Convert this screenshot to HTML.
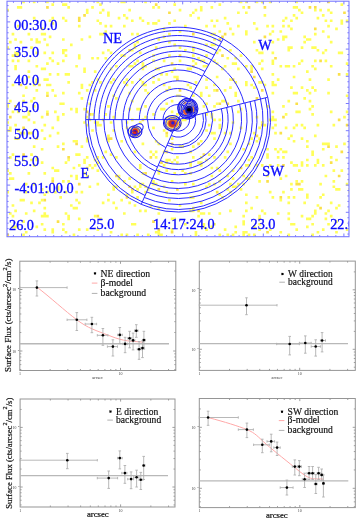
<!DOCTYPE html><html><head><meta charset="utf-8"><style>html,body{margin:0;padding:0;background:#fff;}svg{display:block}</style></head><body>
<svg width="357" height="520" viewBox="0 0 357 520">
<rect width="357" height="520" fill="#fff"/>
<g opacity="0.999">
<g>
<clipPath id="fc"><rect x="7.0" y="1.2" width="342.0" height="235.5"/></clipPath>
<g clip-path="url(#fc)">
<filter id="bl" x="-5%" y="-5%" width="110%" height="110%"><feGaussianBlur stdDeviation="0.45"/></filter>
<g filter="url(#bl)"><path d="M56.71 -1.99h2.65v2.68h-2.65zM59.36 -1.99h2.65v2.68h-2.65zM64.67 -1.99h2.65v2.68h-2.65zM107.10 -1.99h2.65v2.68h-2.65zM123.01 -1.99h2.65v2.68h-2.65zM136.27 -1.99h2.65v2.68h-2.65zM144.23 -1.99h2.65v2.68h-2.65zM160.14 -1.99h2.65v2.68h-2.65zM231.74 -1.99h2.65v2.68h-2.65zM319.26 -1.99h2.65v2.68h-2.65zM337.82 -1.99h2.65v2.68h-2.65zM343.13 -1.99h2.65v2.68h-2.65zM22.24 0.69h2.65v2.68h-2.65zM32.84 0.69h2.65v2.68h-2.65zM46.10 0.69h2.65v2.68h-2.65zM96.49 0.69h2.65v2.68h-2.65zM120.36 0.69h2.65v2.68h-2.65zM123.01 0.69h2.65v2.68h-2.65zM144.23 0.69h2.65v2.68h-2.65zM239.70 0.69h2.65v2.68h-2.65zM245.00 0.69h2.65v2.68h-2.65zM255.61 0.69h2.65v2.68h-2.65zM260.92 0.69h2.65v2.68h-2.65zM268.87 0.69h2.65v2.68h-2.65zM295.39 0.69h2.65v2.68h-2.65zM51.41 3.37h2.65v2.68h-2.65zM62.02 3.37h2.65v2.68h-2.65zM64.67 3.37h2.65v2.68h-2.65zM99.14 3.37h2.65v2.68h-2.65zM173.40 3.37h2.65v2.68h-2.65zM218.48 3.37h2.65v2.68h-2.65zM340.48 3.37h2.65v2.68h-2.65zM16.93 6.04h2.65v2.68h-2.65zM19.58 6.04h2.65v2.68h-2.65zM67.32 6.04h2.65v2.68h-2.65zM91.19 6.04h2.65v2.68h-2.65zM152.18 6.04h2.65v2.68h-2.65zM157.49 6.04h2.65v2.68h-2.65zM199.92 6.04h2.65v2.68h-2.65zM210.53 6.04h2.65v2.68h-2.65zM242.35 6.04h2.65v2.68h-2.65zM292.74 6.04h2.65v2.68h-2.65zM295.39 6.04h2.65v2.68h-2.65zM6.32 8.72h2.65v2.68h-2.65zM85.88 8.72h2.65v2.68h-2.65zM101.80 8.72h2.65v2.68h-2.65zM128.32 8.72h2.65v2.68h-2.65zM178.70 8.72h2.65v2.68h-2.65zM194.62 8.72h2.65v2.68h-2.65zM199.92 8.72h2.65v2.68h-2.65zM298.04 8.72h2.65v2.68h-2.65zM313.96 8.72h2.65v2.68h-2.65zM319.26 8.72h2.65v2.68h-2.65zM327.22 8.72h2.65v2.68h-2.65zM85.88 11.40h2.65v2.68h-2.65zM99.14 11.40h2.65v2.68h-2.65zM107.10 11.40h2.65v2.68h-2.65zM191.96 11.40h2.65v2.68h-2.65zM237.05 11.40h2.65v2.68h-2.65zM245.00 11.40h2.65v2.68h-2.65zM300.70 11.40h2.65v2.68h-2.65zM329.87 11.40h2.65v2.68h-2.65zM107.10 14.07h2.65v2.68h-2.65zM123.01 14.07h2.65v2.68h-2.65zM189.31 14.07h2.65v2.68h-2.65zM263.57 14.07h2.65v2.68h-2.65zM292.74 14.07h2.65v2.68h-2.65zM321.91 14.07h2.65v2.68h-2.65zM32.84 16.75h2.65v2.68h-2.65zM51.41 16.75h2.65v2.68h-2.65zM62.02 16.75h2.65v2.68h-2.65zM117.71 16.75h2.65v2.68h-2.65zM125.66 16.75h2.65v2.68h-2.65zM138.92 16.75h2.65v2.68h-2.65zM197.27 16.75h2.65v2.68h-2.65zM223.79 16.75h2.65v2.68h-2.65zM284.78 16.75h2.65v2.68h-2.65zM295.39 16.75h2.65v2.68h-2.65zM316.61 16.75h2.65v2.68h-2.65zM48.76 19.43h2.65v2.68h-2.65zM64.67 19.43h2.65v2.68h-2.65zM96.49 19.43h2.65v2.68h-2.65zM130.97 19.43h2.65v2.68h-2.65zM141.58 19.43h2.65v2.68h-2.65zM157.49 19.43h2.65v2.68h-2.65zM173.40 19.43h2.65v2.68h-2.65zM210.53 19.43h2.65v2.68h-2.65zM215.83 19.43h2.65v2.68h-2.65zM282.13 19.43h2.65v2.68h-2.65zM290.09 19.43h2.65v2.68h-2.65zM324.56 19.43h2.65v2.68h-2.65zM329.87 19.43h2.65v2.68h-2.65zM340.48 19.43h2.65v2.68h-2.65zM345.78 19.43h2.65v2.68h-2.65zM351.08 19.43h2.65v2.68h-2.65zM51.41 22.11h2.65v2.68h-2.65zM99.14 22.11h2.65v2.68h-2.65zM146.88 22.11h2.65v2.68h-2.65zM152.18 22.11h2.65v2.68h-2.65zM154.84 22.11h2.65v2.68h-2.65zM168.10 22.11h2.65v2.68h-2.65zM226.44 22.11h2.65v2.68h-2.65zM252.96 22.11h2.65v2.68h-2.65zM340.48 22.11h2.65v2.68h-2.65zM16.93 24.78h2.65v2.68h-2.65zM77.93 24.78h2.65v2.68h-2.65zM104.45 24.78h2.65v2.68h-2.65zM109.75 24.78h2.65v2.68h-2.65zM123.01 24.78h2.65v2.68h-2.65zM184.01 24.78h2.65v2.68h-2.65zM205.22 24.78h2.65v2.68h-2.65zM213.18 24.78h2.65v2.68h-2.65zM237.05 24.78h2.65v2.68h-2.65zM266.22 24.78h2.65v2.68h-2.65zM271.52 24.78h2.65v2.68h-2.65zM282.13 24.78h2.65v2.68h-2.65zM287.44 24.78h2.65v2.68h-2.65zM327.22 24.78h2.65v2.68h-2.65zM40.80 27.46h2.65v2.68h-2.65zM162.79 27.46h2.65v2.68h-2.65zM229.09 27.46h2.65v2.68h-2.65zM255.61 27.46h2.65v2.68h-2.65zM290.09 27.46h2.65v2.68h-2.65zM335.17 27.46h2.65v2.68h-2.65zM104.45 30.14h2.65v2.68h-2.65zM178.70 30.14h2.65v2.68h-2.65zM218.48 30.14h2.65v2.68h-2.65zM245.00 30.14h2.65v2.68h-2.65zM271.52 30.14h2.65v2.68h-2.65zM279.48 30.14h2.65v2.68h-2.65zM321.91 30.14h2.65v2.68h-2.65zM11.63 32.81h2.65v2.68h-2.65zM27.54 32.81h2.65v2.68h-2.65zM40.80 32.81h2.65v2.68h-2.65zM43.45 32.81h2.65v2.68h-2.65zM99.14 32.81h2.65v2.68h-2.65zM101.80 32.81h2.65v2.68h-2.65zM130.97 32.81h2.65v2.68h-2.65zM136.27 32.81h2.65v2.68h-2.65zM168.10 32.81h2.65v2.68h-2.65zM210.53 32.81h2.65v2.68h-2.65zM213.18 32.81h2.65v2.68h-2.65zM231.74 32.81h2.65v2.68h-2.65zM245.00 32.81h2.65v2.68h-2.65zM268.87 32.81h2.65v2.68h-2.65zM313.96 32.81h2.65v2.68h-2.65zM48.76 35.49h2.65v2.68h-2.65zM88.54 35.49h2.65v2.68h-2.65zM162.79 35.49h2.65v2.68h-2.65zM282.13 35.49h2.65v2.68h-2.65zM284.78 35.49h2.65v2.68h-2.65zM303.35 35.49h2.65v2.68h-2.65zM327.22 35.49h2.65v2.68h-2.65zM14.28 38.17h2.65v2.68h-2.65zM30.19 38.17h2.65v2.68h-2.65zM35.50 38.17h2.65v2.68h-2.65zM43.45 38.17h2.65v2.68h-2.65zM62.02 38.17h2.65v2.68h-2.65zM80.58 38.17h2.65v2.68h-2.65zM157.49 38.17h2.65v2.68h-2.65zM213.18 38.17h2.65v2.68h-2.65zM276.83 38.17h2.65v2.68h-2.65zM282.13 38.17h2.65v2.68h-2.65zM306.00 38.17h2.65v2.68h-2.65zM308.65 38.17h2.65v2.68h-2.65zM3.67 40.84h2.65v2.68h-2.65zM8.98 40.84h2.65v2.68h-2.65zM19.58 40.84h2.65v2.68h-2.65zM35.50 40.84h2.65v2.68h-2.65zM38.15 40.84h2.65v2.68h-2.65zM136.27 40.84h2.65v2.68h-2.65zM168.10 40.84h2.65v2.68h-2.65zM252.96 40.84h2.65v2.68h-2.65zM271.52 40.84h2.65v2.68h-2.65zM303.35 40.84h2.65v2.68h-2.65zM329.87 40.84h2.65v2.68h-2.65zM46.10 43.52h2.65v2.68h-2.65zM69.97 43.52h2.65v2.68h-2.65zM133.62 43.52h2.65v2.68h-2.65zM173.40 43.52h2.65v2.68h-2.65zM205.22 43.52h2.65v2.68h-2.65zM210.53 43.52h2.65v2.68h-2.65zM213.18 43.52h2.65v2.68h-2.65zM6.32 46.20h2.65v2.68h-2.65zM30.19 46.20h2.65v2.68h-2.65zM133.62 46.20h2.65v2.68h-2.65zM154.84 46.20h2.65v2.68h-2.65zM178.70 46.20h2.65v2.68h-2.65zM191.96 46.20h2.65v2.68h-2.65zM287.44 46.20h2.65v2.68h-2.65zM290.09 46.20h2.65v2.68h-2.65zM300.70 46.20h2.65v2.68h-2.65zM311.30 46.20h2.65v2.68h-2.65zM313.96 46.20h2.65v2.68h-2.65zM351.08 46.20h2.65v2.68h-2.65zM62.02 48.88h2.65v2.68h-2.65zM64.67 48.88h2.65v2.68h-2.65zM107.10 48.88h2.65v2.68h-2.65zM130.97 48.88h2.65v2.68h-2.65zM184.01 48.88h2.65v2.68h-2.65zM191.96 48.88h2.65v2.68h-2.65zM218.48 48.88h2.65v2.68h-2.65zM229.09 48.88h2.65v2.68h-2.65zM255.61 48.88h2.65v2.68h-2.65zM287.44 48.88h2.65v2.68h-2.65zM316.61 48.88h2.65v2.68h-2.65zM324.56 48.88h2.65v2.68h-2.65zM14.28 51.55h2.65v2.68h-2.65zM16.93 51.55h2.65v2.68h-2.65zM35.50 51.55h2.65v2.68h-2.65zM43.45 51.55h2.65v2.68h-2.65zM51.41 51.55h2.65v2.68h-2.65zM62.02 51.55h2.65v2.68h-2.65zM101.80 51.55h2.65v2.68h-2.65zM109.75 51.55h2.65v2.68h-2.65zM138.92 51.55h2.65v2.68h-2.65zM215.83 51.55h2.65v2.68h-2.65zM258.26 51.55h2.65v2.68h-2.65zM260.92 51.55h2.65v2.68h-2.65zM271.52 51.55h2.65v2.68h-2.65zM321.91 51.55h2.65v2.68h-2.65zM337.82 51.55h2.65v2.68h-2.65zM340.48 51.55h2.65v2.68h-2.65zM11.63 54.23h2.65v2.68h-2.65zM14.28 54.23h2.65v2.68h-2.65zM16.93 54.23h2.65v2.68h-2.65zM64.67 54.23h2.65v2.68h-2.65zM77.93 54.23h2.65v2.68h-2.65zM120.36 54.23h2.65v2.68h-2.65zM123.01 54.23h2.65v2.68h-2.65zM152.18 54.23h2.65v2.68h-2.65zM168.10 54.23h2.65v2.68h-2.65zM191.96 54.23h2.65v2.68h-2.65zM205.22 54.23h2.65v2.68h-2.65zM239.70 54.23h2.65v2.68h-2.65zM48.76 56.91h2.65v2.68h-2.65zM77.93 56.91h2.65v2.68h-2.65zM91.19 56.91h2.65v2.68h-2.65zM96.49 56.91h2.65v2.68h-2.65zM104.45 56.91h2.65v2.68h-2.65zM197.27 56.91h2.65v2.68h-2.65zM226.44 56.91h2.65v2.68h-2.65zM234.40 56.91h2.65v2.68h-2.65zM11.63 59.58h2.65v2.68h-2.65zM16.93 59.58h2.65v2.68h-2.65zM27.54 59.58h2.65v2.68h-2.65zM51.41 59.58h2.65v2.68h-2.65zM62.02 59.58h2.65v2.68h-2.65zM136.27 59.58h2.65v2.68h-2.65zM152.18 59.58h2.65v2.68h-2.65zM162.79 59.58h2.65v2.68h-2.65zM178.70 59.58h2.65v2.68h-2.65zM191.96 59.58h2.65v2.68h-2.65zM199.92 59.58h2.65v2.68h-2.65zM202.57 59.58h2.65v2.68h-2.65zM213.18 59.58h2.65v2.68h-2.65zM260.92 59.58h2.65v2.68h-2.65zM271.52 59.58h2.65v2.68h-2.65zM300.70 59.58h2.65v2.68h-2.65zM313.96 59.58h2.65v2.68h-2.65zM324.56 59.58h2.65v2.68h-2.65zM46.10 62.26h2.65v2.68h-2.65zM56.71 62.26h2.65v2.68h-2.65zM133.62 62.26h2.65v2.68h-2.65zM141.58 62.26h2.65v2.68h-2.65zM194.62 62.26h2.65v2.68h-2.65zM215.83 62.26h2.65v2.68h-2.65zM231.74 62.26h2.65v2.68h-2.65zM234.40 62.26h2.65v2.68h-2.65zM258.26 62.26h2.65v2.68h-2.65zM271.52 62.26h2.65v2.68h-2.65zM298.04 62.26h2.65v2.68h-2.65zM345.78 62.26h2.65v2.68h-2.65zM14.28 64.94h2.65v2.68h-2.65zM35.50 64.94h2.65v2.68h-2.65zM75.28 64.94h2.65v2.68h-2.65zM115.06 64.94h2.65v2.68h-2.65zM128.32 64.94h2.65v2.68h-2.65zM130.97 64.94h2.65v2.68h-2.65zM141.58 64.94h2.65v2.68h-2.65zM144.23 64.94h2.65v2.68h-2.65zM202.57 64.94h2.65v2.68h-2.65zM205.22 64.94h2.65v2.68h-2.65zM223.79 64.94h2.65v2.68h-2.65zM245.00 64.94h2.65v2.68h-2.65zM250.31 64.94h2.65v2.68h-2.65zM279.48 64.94h2.65v2.68h-2.65zM284.78 64.94h2.65v2.68h-2.65zM287.44 64.94h2.65v2.68h-2.65zM292.74 64.94h2.65v2.68h-2.65zM311.30 64.94h2.65v2.68h-2.65zM329.87 64.94h2.65v2.68h-2.65zM14.28 67.61h2.65v2.68h-2.65zM40.80 67.61h2.65v2.68h-2.65zM43.45 67.61h2.65v2.68h-2.65zM83.23 67.61h2.65v2.68h-2.65zM109.75 67.61h2.65v2.68h-2.65zM141.58 67.61h2.65v2.68h-2.65zM154.84 67.61h2.65v2.68h-2.65zM157.49 67.61h2.65v2.68h-2.65zM173.40 67.61h2.65v2.68h-2.65zM186.66 67.61h2.65v2.68h-2.65zM189.31 67.61h2.65v2.68h-2.65zM221.14 67.61h2.65v2.68h-2.65zM237.05 67.61h2.65v2.68h-2.65zM250.31 67.61h2.65v2.68h-2.65zM260.92 67.61h2.65v2.68h-2.65zM313.96 67.61h2.65v2.68h-2.65zM27.54 70.29h2.65v2.68h-2.65zM83.23 70.29h2.65v2.68h-2.65zM93.84 70.29h2.65v2.68h-2.65zM170.75 70.29h2.65v2.68h-2.65zM306.00 70.29h2.65v2.68h-2.65zM48.76 72.97h2.65v2.68h-2.65zM56.71 72.97h2.65v2.68h-2.65zM64.67 72.97h2.65v2.68h-2.65zM67.32 72.97h2.65v2.68h-2.65zM160.14 72.97h2.65v2.68h-2.65zM165.44 72.97h2.65v2.68h-2.65zM271.52 72.97h2.65v2.68h-2.65zM345.78 72.97h2.65v2.68h-2.65zM351.08 72.97h2.65v2.68h-2.65zM3.67 75.65h2.65v2.68h-2.65zM27.54 75.65h2.65v2.68h-2.65zM152.18 75.65h2.65v2.68h-2.65zM173.40 75.65h2.65v2.68h-2.65zM176.05 75.65h2.65v2.68h-2.65zM215.83 75.65h2.65v2.68h-2.65zM292.74 75.65h2.65v2.68h-2.65zM35.50 78.32h2.65v2.68h-2.65zM43.45 78.32h2.65v2.68h-2.65zM46.10 78.32h2.65v2.68h-2.65zM96.49 78.32h2.65v2.68h-2.65zM112.40 78.32h2.65v2.68h-2.65zM125.66 78.32h2.65v2.68h-2.65zM138.92 78.32h2.65v2.68h-2.65zM157.49 78.32h2.65v2.68h-2.65zM205.22 78.32h2.65v2.68h-2.65zM229.09 78.32h2.65v2.68h-2.65zM276.83 78.32h2.65v2.68h-2.65zM308.65 78.32h2.65v2.68h-2.65zM327.22 78.32h2.65v2.68h-2.65zM3.67 81.00h2.65v2.68h-2.65zM35.50 81.00h2.65v2.68h-2.65zM67.32 81.00h2.65v2.68h-2.65zM91.19 81.00h2.65v2.68h-2.65zM99.14 81.00h2.65v2.68h-2.65zM109.75 81.00h2.65v2.68h-2.65zM123.01 81.00h2.65v2.68h-2.65zM130.97 81.00h2.65v2.68h-2.65zM141.58 81.00h2.65v2.68h-2.65zM152.18 81.00h2.65v2.68h-2.65zM194.62 81.00h2.65v2.68h-2.65zM234.40 81.00h2.65v2.68h-2.65zM245.00 81.00h2.65v2.68h-2.65zM258.26 81.00h2.65v2.68h-2.65zM260.92 81.00h2.65v2.68h-2.65zM271.52 81.00h2.65v2.68h-2.65zM11.63 83.68h2.65v2.68h-2.65zM32.84 83.68h2.65v2.68h-2.65zM46.10 83.68h2.65v2.68h-2.65zM48.76 83.68h2.65v2.68h-2.65zM80.58 83.68h2.65v2.68h-2.65zM88.54 83.68h2.65v2.68h-2.65zM125.66 83.68h2.65v2.68h-2.65zM141.58 83.68h2.65v2.68h-2.65zM144.23 83.68h2.65v2.68h-2.65zM162.79 83.68h2.65v2.68h-2.65zM186.66 83.68h2.65v2.68h-2.65zM213.18 83.68h2.65v2.68h-2.65zM245.00 83.68h2.65v2.68h-2.65zM250.31 83.68h2.65v2.68h-2.65zM263.57 83.68h2.65v2.68h-2.65zM271.52 83.68h2.65v2.68h-2.65zM274.18 83.68h2.65v2.68h-2.65zM24.89 86.35h2.65v2.68h-2.65zM80.58 86.35h2.65v2.68h-2.65zM168.10 86.35h2.65v2.68h-2.65zM189.31 86.35h2.65v2.68h-2.65zM205.22 86.35h2.65v2.68h-2.65zM229.09 86.35h2.65v2.68h-2.65zM252.96 86.35h2.65v2.68h-2.65zM290.09 86.35h2.65v2.68h-2.65zM300.70 86.35h2.65v2.68h-2.65zM311.30 86.35h2.65v2.68h-2.65zM35.50 89.03h2.65v2.68h-2.65zM51.41 89.03h2.65v2.68h-2.65zM85.88 89.03h2.65v2.68h-2.65zM93.84 89.03h2.65v2.68h-2.65zM144.23 89.03h2.65v2.68h-2.65zM165.44 89.03h2.65v2.68h-2.65zM213.18 89.03h2.65v2.68h-2.65zM223.79 89.03h2.65v2.68h-2.65zM306.00 89.03h2.65v2.68h-2.65zM313.96 89.03h2.65v2.68h-2.65zM46.10 91.71h2.65v2.68h-2.65zM62.02 91.71h2.65v2.68h-2.65zM77.93 91.71h2.65v2.68h-2.65zM128.32 91.71h2.65v2.68h-2.65zM146.88 91.71h2.65v2.68h-2.65zM199.92 91.71h2.65v2.68h-2.65zM234.40 91.71h2.65v2.68h-2.65zM271.52 91.71h2.65v2.68h-2.65zM292.74 91.71h2.65v2.68h-2.65zM295.39 91.71h2.65v2.68h-2.65zM308.65 91.71h2.65v2.68h-2.65zM327.22 91.71h2.65v2.68h-2.65zM22.24 94.39h2.65v2.68h-2.65zM54.06 94.39h2.65v2.68h-2.65zM112.40 94.39h2.65v2.68h-2.65zM176.05 94.39h2.65v2.68h-2.65zM178.70 94.39h2.65v2.68h-2.65zM191.96 94.39h2.65v2.68h-2.65zM199.92 94.39h2.65v2.68h-2.65zM207.88 94.39h2.65v2.68h-2.65zM234.40 94.39h2.65v2.68h-2.65zM345.78 94.39h2.65v2.68h-2.65zM32.84 97.06h2.65v2.68h-2.65zM80.58 97.06h2.65v2.68h-2.65zM115.06 97.06h2.65v2.68h-2.65zM303.35 97.06h2.65v2.68h-2.65zM8.98 99.74h2.65v2.68h-2.65zM22.24 99.74h2.65v2.68h-2.65zM30.19 99.74h2.65v2.68h-2.65zM130.97 99.74h2.65v2.68h-2.65zM170.75 99.74h2.65v2.68h-2.65zM221.14 99.74h2.65v2.68h-2.65zM223.79 99.74h2.65v2.68h-2.65zM237.05 99.74h2.65v2.68h-2.65zM287.44 99.74h2.65v2.68h-2.65zM308.65 99.74h2.65v2.68h-2.65zM6.32 102.42h2.65v2.68h-2.65zM59.36 102.42h2.65v2.68h-2.65zM62.02 102.42h2.65v2.68h-2.65zM88.54 102.42h2.65v2.68h-2.65zM165.44 102.42h2.65v2.68h-2.65zM205.22 102.42h2.65v2.68h-2.65zM215.83 102.42h2.65v2.68h-2.65zM351.08 102.42h2.65v2.68h-2.65zM6.32 105.09h2.65v2.68h-2.65zM32.84 105.09h2.65v2.68h-2.65zM107.10 105.09h2.65v2.68h-2.65zM144.23 105.09h2.65v2.68h-2.65zM189.31 105.09h2.65v2.68h-2.65zM202.57 105.09h2.65v2.68h-2.65zM213.18 105.09h2.65v2.68h-2.65zM266.22 105.09h2.65v2.68h-2.65zM282.13 105.09h2.65v2.68h-2.65zM311.30 105.09h2.65v2.68h-2.65zM69.97 107.77h2.65v2.68h-2.65zM75.28 107.77h2.65v2.68h-2.65zM83.23 107.77h2.65v2.68h-2.65zM128.32 107.77h2.65v2.68h-2.65zM136.27 107.77h2.65v2.68h-2.65zM138.92 107.77h2.65v2.68h-2.65zM160.14 107.77h2.65v2.68h-2.65zM162.79 107.77h2.65v2.68h-2.65zM189.31 107.77h2.65v2.68h-2.65zM239.70 107.77h2.65v2.68h-2.65zM308.65 107.77h2.65v2.68h-2.65zM11.63 110.45h2.65v2.68h-2.65zM16.93 110.45h2.65v2.68h-2.65zM27.54 110.45h2.65v2.68h-2.65zM46.10 110.45h2.65v2.68h-2.65zM54.06 110.45h2.65v2.68h-2.65zM75.28 110.45h2.65v2.68h-2.65zM170.75 110.45h2.65v2.68h-2.65zM237.05 110.45h2.65v2.68h-2.65zM271.52 110.45h2.65v2.68h-2.65zM295.39 110.45h2.65v2.68h-2.65zM298.04 110.45h2.65v2.68h-2.65zM329.87 110.45h2.65v2.68h-2.65zM345.78 110.45h2.65v2.68h-2.65zM351.08 110.45h2.65v2.68h-2.65zM27.54 113.12h2.65v2.68h-2.65zM62.02 113.12h2.65v2.68h-2.65zM91.19 113.12h2.65v2.68h-2.65zM104.45 113.12h2.65v2.68h-2.65zM152.18 113.12h2.65v2.68h-2.65zM176.05 113.12h2.65v2.68h-2.65zM205.22 113.12h2.65v2.68h-2.65zM210.53 113.12h2.65v2.68h-2.65zM284.78 113.12h2.65v2.68h-2.65zM311.30 113.12h2.65v2.68h-2.65zM22.24 115.80h2.65v2.68h-2.65zM24.89 115.80h2.65v2.68h-2.65zM40.80 115.80h2.65v2.68h-2.65zM56.71 115.80h2.65v2.68h-2.65zM85.88 115.80h2.65v2.68h-2.65zM112.40 115.80h2.65v2.68h-2.65zM144.23 115.80h2.65v2.68h-2.65zM210.53 115.80h2.65v2.68h-2.65zM255.61 115.80h2.65v2.68h-2.65zM271.52 115.80h2.65v2.68h-2.65zM343.13 115.80h2.65v2.68h-2.65zM27.54 118.48h2.65v2.68h-2.65zM56.71 118.48h2.65v2.68h-2.65zM88.54 118.48h2.65v2.68h-2.65zM101.80 118.48h2.65v2.68h-2.65zM130.97 118.48h2.65v2.68h-2.65zM181.36 118.48h2.65v2.68h-2.65zM184.01 118.48h2.65v2.68h-2.65zM213.18 118.48h2.65v2.68h-2.65zM218.48 118.48h2.65v2.68h-2.65zM268.87 118.48h2.65v2.68h-2.65zM271.52 118.48h2.65v2.68h-2.65zM274.18 118.48h2.65v2.68h-2.65zM6.32 121.16h2.65v2.68h-2.65zM32.84 121.16h2.65v2.68h-2.65zM83.23 121.16h2.65v2.68h-2.65zM93.84 121.16h2.65v2.68h-2.65zM96.49 121.16h2.65v2.68h-2.65zM109.75 121.16h2.65v2.68h-2.65zM125.66 121.16h2.65v2.68h-2.65zM138.92 121.16h2.65v2.68h-2.65zM173.40 121.16h2.65v2.68h-2.65zM178.70 121.16h2.65v2.68h-2.65zM231.74 121.16h2.65v2.68h-2.65zM260.92 121.16h2.65v2.68h-2.65zM14.28 123.83h2.65v2.68h-2.65zM43.45 123.83h2.65v2.68h-2.65zM85.88 123.83h2.65v2.68h-2.65zM96.49 123.83h2.65v2.68h-2.65zM99.14 123.83h2.65v2.68h-2.65zM165.44 123.83h2.65v2.68h-2.65zM207.88 123.83h2.65v2.68h-2.65zM218.48 123.83h2.65v2.68h-2.65zM263.57 123.83h2.65v2.68h-2.65zM274.18 123.83h2.65v2.68h-2.65zM295.39 123.83h2.65v2.68h-2.65zM300.70 123.83h2.65v2.68h-2.65zM316.61 123.83h2.65v2.68h-2.65zM332.52 123.83h2.65v2.68h-2.65zM3.67 126.51h2.65v2.68h-2.65zM8.98 126.51h2.65v2.68h-2.65zM51.41 126.51h2.65v2.68h-2.65zM125.66 126.51h2.65v2.68h-2.65zM152.18 126.51h2.65v2.68h-2.65zM165.44 126.51h2.65v2.68h-2.65zM218.48 126.51h2.65v2.68h-2.65zM239.70 126.51h2.65v2.68h-2.65zM258.26 126.51h2.65v2.68h-2.65zM271.52 126.51h2.65v2.68h-2.65zM284.78 126.51h2.65v2.68h-2.65zM292.74 126.51h2.65v2.68h-2.65zM303.35 126.51h2.65v2.68h-2.65zM6.32 129.19h2.65v2.68h-2.65zM8.98 129.19h2.65v2.68h-2.65zM16.93 129.19h2.65v2.68h-2.65zM40.80 129.19h2.65v2.68h-2.65zM91.19 129.19h2.65v2.68h-2.65zM112.40 129.19h2.65v2.68h-2.65zM162.79 129.19h2.65v2.68h-2.65zM205.22 129.19h2.65v2.68h-2.65zM19.58 131.86h2.65v2.68h-2.65zM22.24 131.86h2.65v2.68h-2.65zM30.19 131.86h2.65v2.68h-2.65zM56.71 131.86h2.65v2.68h-2.65zM210.53 131.86h2.65v2.68h-2.65zM213.18 131.86h2.65v2.68h-2.65zM223.79 131.86h2.65v2.68h-2.65zM229.09 131.86h2.65v2.68h-2.65zM252.96 131.86h2.65v2.68h-2.65zM274.18 131.86h2.65v2.68h-2.65zM48.76 134.54h2.65v2.68h-2.65zM107.10 134.54h2.65v2.68h-2.65zM133.62 134.54h2.65v2.68h-2.65zM165.44 134.54h2.65v2.68h-2.65zM290.09 134.54h2.65v2.68h-2.65zM313.96 134.54h2.65v2.68h-2.65zM14.28 137.22h2.65v2.68h-2.65zM16.93 137.22h2.65v2.68h-2.65zM35.50 137.22h2.65v2.68h-2.65zM43.45 137.22h2.65v2.68h-2.65zM85.88 137.22h2.65v2.68h-2.65zM170.75 137.22h2.65v2.68h-2.65zM213.18 137.22h2.65v2.68h-2.65zM250.31 137.22h2.65v2.68h-2.65zM258.26 137.22h2.65v2.68h-2.65zM287.44 137.22h2.65v2.68h-2.65zM300.70 137.22h2.65v2.68h-2.65zM72.62 139.89h2.65v2.68h-2.65zM75.28 139.89h2.65v2.68h-2.65zM85.88 139.89h2.65v2.68h-2.65zM107.10 139.89h2.65v2.68h-2.65zM120.36 139.89h2.65v2.68h-2.65zM154.84 139.89h2.65v2.68h-2.65zM199.92 139.89h2.65v2.68h-2.65zM255.61 139.89h2.65v2.68h-2.65zM292.74 139.89h2.65v2.68h-2.65zM306.00 139.89h2.65v2.68h-2.65zM62.02 142.57h2.65v2.68h-2.65zM141.58 142.57h2.65v2.68h-2.65zM157.49 142.57h2.65v2.68h-2.65zM229.09 142.57h2.65v2.68h-2.65zM247.66 142.57h2.65v2.68h-2.65zM321.91 142.57h2.65v2.68h-2.65zM324.56 142.57h2.65v2.68h-2.65zM327.22 142.57h2.65v2.68h-2.65zM343.13 142.57h2.65v2.68h-2.65zM32.84 145.25h2.65v2.68h-2.65zM56.71 145.25h2.65v2.68h-2.65zM80.58 145.25h2.65v2.68h-2.65zM178.70 145.25h2.65v2.68h-2.65zM181.36 145.25h2.65v2.68h-2.65zM191.96 145.25h2.65v2.68h-2.65zM306.00 145.25h2.65v2.68h-2.65zM335.17 145.25h2.65v2.68h-2.65zM40.80 147.93h2.65v2.68h-2.65zM170.75 147.93h2.65v2.68h-2.65zM242.35 147.93h2.65v2.68h-2.65zM266.22 147.93h2.65v2.68h-2.65zM274.18 147.93h2.65v2.68h-2.65zM279.48 147.93h2.65v2.68h-2.65zM321.91 147.93h2.65v2.68h-2.65zM104.45 150.60h2.65v2.68h-2.65zM133.62 150.60h2.65v2.68h-2.65zM149.53 150.60h2.65v2.68h-2.65zM154.84 150.60h2.65v2.68h-2.65zM162.79 150.60h2.65v2.68h-2.65zM189.31 150.60h2.65v2.68h-2.65zM226.44 150.60h2.65v2.68h-2.65zM276.83 150.60h2.65v2.68h-2.65zM282.13 150.60h2.65v2.68h-2.65zM284.78 150.60h2.65v2.68h-2.65zM311.30 150.60h2.65v2.68h-2.65zM351.08 150.60h2.65v2.68h-2.65zM11.63 153.28h2.65v2.68h-2.65zM30.19 153.28h2.65v2.68h-2.65zM75.28 153.28h2.65v2.68h-2.65zM77.93 153.28h2.65v2.68h-2.65zM109.75 153.28h2.65v2.68h-2.65zM152.18 153.28h2.65v2.68h-2.65zM207.88 153.28h2.65v2.68h-2.65zM266.22 153.28h2.65v2.68h-2.65zM311.30 153.28h2.65v2.68h-2.65zM8.98 155.96h2.65v2.68h-2.65zM35.50 155.96h2.65v2.68h-2.65zM85.88 155.96h2.65v2.68h-2.65zM96.49 155.96h2.65v2.68h-2.65zM101.80 155.96h2.65v2.68h-2.65zM115.06 155.96h2.65v2.68h-2.65zM154.84 155.96h2.65v2.68h-2.65zM176.05 155.96h2.65v2.68h-2.65zM191.96 155.96h2.65v2.68h-2.65zM199.92 155.96h2.65v2.68h-2.65zM213.18 155.96h2.65v2.68h-2.65zM223.79 155.96h2.65v2.68h-2.65zM250.31 155.96h2.65v2.68h-2.65zM266.22 155.96h2.65v2.68h-2.65zM276.83 155.96h2.65v2.68h-2.65zM282.13 155.96h2.65v2.68h-2.65zM329.87 155.96h2.65v2.68h-2.65zM14.28 158.63h2.65v2.68h-2.65zM22.24 158.63h2.65v2.68h-2.65zM30.19 158.63h2.65v2.68h-2.65zM35.50 158.63h2.65v2.68h-2.65zM67.32 158.63h2.65v2.68h-2.65zM83.23 158.63h2.65v2.68h-2.65zM93.84 158.63h2.65v2.68h-2.65zM165.44 158.63h2.65v2.68h-2.65zM168.10 158.63h2.65v2.68h-2.65zM173.40 158.63h2.65v2.68h-2.65zM205.22 158.63h2.65v2.68h-2.65zM247.66 158.63h2.65v2.68h-2.65zM306.00 158.63h2.65v2.68h-2.65zM316.61 158.63h2.65v2.68h-2.65zM335.17 158.63h2.65v2.68h-2.65zM40.80 161.31h2.65v2.68h-2.65zM64.67 161.31h2.65v2.68h-2.65zM83.23 161.31h2.65v2.68h-2.65zM96.49 161.31h2.65v2.68h-2.65zM165.44 161.31h2.65v2.68h-2.65zM170.75 161.31h2.65v2.68h-2.65zM176.05 161.31h2.65v2.68h-2.65zM189.31 161.31h2.65v2.68h-2.65zM197.27 161.31h2.65v2.68h-2.65zM199.92 161.31h2.65v2.68h-2.65zM290.09 161.31h2.65v2.68h-2.65zM300.70 161.31h2.65v2.68h-2.65zM316.61 161.31h2.65v2.68h-2.65zM32.84 163.99h2.65v2.68h-2.65zM77.93 163.99h2.65v2.68h-2.65zM88.54 163.99h2.65v2.68h-2.65zM93.84 163.99h2.65v2.68h-2.65zM138.92 163.99h2.65v2.68h-2.65zM162.79 163.99h2.65v2.68h-2.65zM189.31 163.99h2.65v2.68h-2.65zM199.92 163.99h2.65v2.68h-2.65zM245.00 163.99h2.65v2.68h-2.65zM247.66 163.99h2.65v2.68h-2.65zM255.61 163.99h2.65v2.68h-2.65zM260.92 163.99h2.65v2.68h-2.65zM268.87 163.99h2.65v2.68h-2.65zM276.83 163.99h2.65v2.68h-2.65zM292.74 163.99h2.65v2.68h-2.65zM295.39 163.99h2.65v2.68h-2.65zM300.70 163.99h2.65v2.68h-2.65zM306.00 163.99h2.65v2.68h-2.65zM313.96 163.99h2.65v2.68h-2.65zM321.91 163.99h2.65v2.68h-2.65zM3.67 166.66h2.65v2.68h-2.65zM51.41 166.66h2.65v2.68h-2.65zM72.62 166.66h2.65v2.68h-2.65zM85.88 166.66h2.65v2.68h-2.65zM91.19 166.66h2.65v2.68h-2.65zM138.92 166.66h2.65v2.68h-2.65zM210.53 166.66h2.65v2.68h-2.65zM215.83 166.66h2.65v2.68h-2.65zM351.08 166.66h2.65v2.68h-2.65zM6.32 169.34h2.65v2.68h-2.65zM54.06 169.34h2.65v2.68h-2.65zM56.71 169.34h2.65v2.68h-2.65zM96.49 169.34h2.65v2.68h-2.65zM157.49 169.34h2.65v2.68h-2.65zM165.44 169.34h2.65v2.68h-2.65zM181.36 169.34h2.65v2.68h-2.65zM218.48 169.34h2.65v2.68h-2.65zM231.74 169.34h2.65v2.68h-2.65zM298.04 169.34h2.65v2.68h-2.65zM332.52 169.34h2.65v2.68h-2.65zM340.48 169.34h2.65v2.68h-2.65zM8.98 172.02h2.65v2.68h-2.65zM27.54 172.02h2.65v2.68h-2.65zM43.45 172.02h2.65v2.68h-2.65zM83.23 172.02h2.65v2.68h-2.65zM141.58 172.02h2.65v2.68h-2.65zM157.49 172.02h2.65v2.68h-2.65zM173.40 172.02h2.65v2.68h-2.65zM184.01 172.02h2.65v2.68h-2.65zM189.31 172.02h2.65v2.68h-2.65zM69.97 174.69h2.65v2.68h-2.65zM75.28 174.69h2.65v2.68h-2.65zM85.88 174.69h2.65v2.68h-2.65zM117.71 174.69h2.65v2.68h-2.65zM210.53 174.69h2.65v2.68h-2.65zM226.44 174.69h2.65v2.68h-2.65zM242.35 174.69h2.65v2.68h-2.65zM250.31 174.69h2.65v2.68h-2.65zM266.22 174.69h2.65v2.68h-2.65zM284.78 174.69h2.65v2.68h-2.65zM324.56 174.69h2.65v2.68h-2.65zM8.98 177.37h2.65v2.68h-2.65zM11.63 177.37h2.65v2.68h-2.65zM51.41 177.37h2.65v2.68h-2.65zM75.28 177.37h2.65v2.68h-2.65zM117.71 177.37h2.65v2.68h-2.65zM128.32 177.37h2.65v2.68h-2.65zM231.74 177.37h2.65v2.68h-2.65zM245.00 177.37h2.65v2.68h-2.65zM247.66 177.37h2.65v2.68h-2.65zM279.48 177.37h2.65v2.68h-2.65zM62.02 180.05h2.65v2.68h-2.65zM67.32 180.05h2.65v2.68h-2.65zM123.01 180.05h2.65v2.68h-2.65zM152.18 180.05h2.65v2.68h-2.65zM170.75 180.05h2.65v2.68h-2.65zM218.48 180.05h2.65v2.68h-2.65zM258.26 180.05h2.65v2.68h-2.65zM295.39 180.05h2.65v2.68h-2.65zM300.70 180.05h2.65v2.68h-2.65zM332.52 180.05h2.65v2.68h-2.65zM348.43 180.05h2.65v2.68h-2.65zM24.89 182.73h2.65v2.68h-2.65zM32.84 182.73h2.65v2.68h-2.65zM96.49 182.73h2.65v2.68h-2.65zM138.92 182.73h2.65v2.68h-2.65zM141.58 182.73h2.65v2.68h-2.65zM152.18 182.73h2.65v2.68h-2.65zM154.84 182.73h2.65v2.68h-2.65zM184.01 182.73h2.65v2.68h-2.65zM191.96 182.73h2.65v2.68h-2.65zM207.88 182.73h2.65v2.68h-2.65zM213.18 182.73h2.65v2.68h-2.65zM229.09 182.73h2.65v2.68h-2.65zM237.05 182.73h2.65v2.68h-2.65zM242.35 182.73h2.65v2.68h-2.65zM290.09 182.73h2.65v2.68h-2.65zM319.26 182.73h2.65v2.68h-2.65zM345.78 182.73h2.65v2.68h-2.65zM351.08 182.73h2.65v2.68h-2.65zM56.71 185.40h2.65v2.68h-2.65zM88.54 185.40h2.65v2.68h-2.65zM112.40 185.40h2.65v2.68h-2.65zM115.06 185.40h2.65v2.68h-2.65zM133.62 185.40h2.65v2.68h-2.65zM138.92 185.40h2.65v2.68h-2.65zM144.23 185.40h2.65v2.68h-2.65zM162.79 185.40h2.65v2.68h-2.65zM205.22 185.40h2.65v2.68h-2.65zM231.74 185.40h2.65v2.68h-2.65zM234.40 185.40h2.65v2.68h-2.65zM332.52 185.40h2.65v2.68h-2.65zM40.80 188.08h2.65v2.68h-2.65zM56.71 188.08h2.65v2.68h-2.65zM112.40 188.08h2.65v2.68h-2.65zM136.27 188.08h2.65v2.68h-2.65zM146.88 188.08h2.65v2.68h-2.65zM226.44 188.08h2.65v2.68h-2.65zM239.70 188.08h2.65v2.68h-2.65zM290.09 188.08h2.65v2.68h-2.65zM298.04 188.08h2.65v2.68h-2.65zM300.70 188.08h2.65v2.68h-2.65zM335.17 188.08h2.65v2.68h-2.65zM337.82 188.08h2.65v2.68h-2.65zM348.43 188.08h2.65v2.68h-2.65zM6.32 190.76h2.65v2.68h-2.65zM24.89 190.76h2.65v2.68h-2.65zM46.10 190.76h2.65v2.68h-2.65zM54.06 190.76h2.65v2.68h-2.65zM64.67 190.76h2.65v2.68h-2.65zM75.28 190.76h2.65v2.68h-2.65zM80.58 190.76h2.65v2.68h-2.65zM130.97 190.76h2.65v2.68h-2.65zM144.23 190.76h2.65v2.68h-2.65zM165.44 190.76h2.65v2.68h-2.65zM229.09 190.76h2.65v2.68h-2.65zM268.87 190.76h2.65v2.68h-2.65zM282.13 190.76h2.65v2.68h-2.65zM348.43 190.76h2.65v2.68h-2.65zM43.45 193.43h2.65v2.68h-2.65zM107.10 193.43h2.65v2.68h-2.65zM125.66 193.43h2.65v2.68h-2.65zM218.48 193.43h2.65v2.68h-2.65zM245.00 193.43h2.65v2.68h-2.65zM306.00 193.43h2.65v2.68h-2.65zM321.91 193.43h2.65v2.68h-2.65zM59.36 196.11h2.65v2.68h-2.65zM136.27 196.11h2.65v2.68h-2.65zM189.31 196.11h2.65v2.68h-2.65zM191.96 196.11h2.65v2.68h-2.65zM221.14 196.11h2.65v2.68h-2.65zM255.61 196.11h2.65v2.68h-2.65zM271.52 196.11h2.65v2.68h-2.65zM287.44 196.11h2.65v2.68h-2.65zM292.74 196.11h2.65v2.68h-2.65zM306.00 196.11h2.65v2.68h-2.65zM319.26 196.11h2.65v2.68h-2.65zM19.58 198.79h2.65v2.68h-2.65zM22.24 198.79h2.65v2.68h-2.65zM40.80 198.79h2.65v2.68h-2.65zM75.28 198.79h2.65v2.68h-2.65zM107.10 198.79h2.65v2.68h-2.65zM120.36 198.79h2.65v2.68h-2.65zM168.10 198.79h2.65v2.68h-2.65zM279.48 198.79h2.65v2.68h-2.65zM30.19 201.47h2.65v2.68h-2.65zM38.15 201.47h2.65v2.68h-2.65zM77.93 201.47h2.65v2.68h-2.65zM101.80 201.47h2.65v2.68h-2.65zM112.40 201.47h2.65v2.68h-2.65zM128.32 201.47h2.65v2.68h-2.65zM199.92 201.47h2.65v2.68h-2.65zM245.00 201.47h2.65v2.68h-2.65zM287.44 201.47h2.65v2.68h-2.65zM303.35 201.47h2.65v2.68h-2.65zM329.87 201.47h2.65v2.68h-2.65zM11.63 204.14h2.65v2.68h-2.65zM69.97 204.14h2.65v2.68h-2.65zM133.62 204.14h2.65v2.68h-2.65zM149.53 204.14h2.65v2.68h-2.65zM178.70 204.14h2.65v2.68h-2.65zM316.61 204.14h2.65v2.68h-2.65zM337.82 204.14h2.65v2.68h-2.65zM43.45 206.82h2.65v2.68h-2.65zM72.62 206.82h2.65v2.68h-2.65zM75.28 206.82h2.65v2.68h-2.65zM115.06 206.82h2.65v2.68h-2.65zM157.49 206.82h2.65v2.68h-2.65zM191.96 206.82h2.65v2.68h-2.65zM250.31 206.82h2.65v2.68h-2.65zM335.17 206.82h2.65v2.68h-2.65zM14.28 209.50h2.65v2.68h-2.65zM32.84 209.50h2.65v2.68h-2.65zM138.92 209.50h2.65v2.68h-2.65zM144.23 209.50h2.65v2.68h-2.65zM189.31 209.50h2.65v2.68h-2.65zM191.96 209.50h2.65v2.68h-2.65zM229.09 209.50h2.65v2.68h-2.65zM245.00 209.50h2.65v2.68h-2.65zM260.92 209.50h2.65v2.68h-2.65zM313.96 209.50h2.65v2.68h-2.65zM327.22 209.50h2.65v2.68h-2.65zM351.08 209.50h2.65v2.68h-2.65zM8.98 212.17h2.65v2.68h-2.65zM24.89 212.17h2.65v2.68h-2.65zM43.45 212.17h2.65v2.68h-2.65zM64.67 212.17h2.65v2.68h-2.65zM123.01 212.17h2.65v2.68h-2.65zM157.49 212.17h2.65v2.68h-2.65zM199.92 212.17h2.65v2.68h-2.65zM202.57 212.17h2.65v2.68h-2.65zM207.88 212.17h2.65v2.68h-2.65zM218.48 212.17h2.65v2.68h-2.65zM263.57 212.17h2.65v2.68h-2.65zM276.83 212.17h2.65v2.68h-2.65zM287.44 212.17h2.65v2.68h-2.65zM313.96 212.17h2.65v2.68h-2.65zM324.56 212.17h2.65v2.68h-2.65zM11.63 214.85h2.65v2.68h-2.65zM40.80 214.85h2.65v2.68h-2.65zM43.45 214.85h2.65v2.68h-2.65zM46.10 214.85h2.65v2.68h-2.65zM67.32 214.85h2.65v2.68h-2.65zM93.84 214.85h2.65v2.68h-2.65zM197.27 214.85h2.65v2.68h-2.65zM242.35 214.85h2.65v2.68h-2.65zM258.26 214.85h2.65v2.68h-2.65zM300.70 214.85h2.65v2.68h-2.65zM311.30 214.85h2.65v2.68h-2.65zM329.87 214.85h2.65v2.68h-2.65zM67.32 217.53h2.65v2.68h-2.65zM77.93 217.53h2.65v2.68h-2.65zM99.14 217.53h2.65v2.68h-2.65zM170.75 217.53h2.65v2.68h-2.65zM173.40 217.53h2.65v2.68h-2.65zM287.44 217.53h2.65v2.68h-2.65zM306.00 217.53h2.65v2.68h-2.65zM308.65 217.53h2.65v2.68h-2.65zM324.56 217.53h2.65v2.68h-2.65zM3.67 220.20h2.65v2.68h-2.65zM22.24 220.20h2.65v2.68h-2.65zM242.35 220.20h2.65v2.68h-2.65zM335.17 220.20h2.65v2.68h-2.65zM40.80 222.88h2.65v2.68h-2.65zM62.02 222.88h2.65v2.68h-2.65zM130.97 222.88h2.65v2.68h-2.65zM133.62 222.88h2.65v2.68h-2.65zM184.01 222.88h2.65v2.68h-2.65zM202.57 222.88h2.65v2.68h-2.65zM213.18 222.88h2.65v2.68h-2.65zM242.35 222.88h2.65v2.68h-2.65zM258.26 222.88h2.65v2.68h-2.65zM290.09 222.88h2.65v2.68h-2.65zM292.74 222.88h2.65v2.68h-2.65zM311.30 222.88h2.65v2.68h-2.65zM327.22 222.88h2.65v2.68h-2.65zM11.63 225.56h2.65v2.68h-2.65zM14.28 225.56h2.65v2.68h-2.65zM35.50 225.56h2.65v2.68h-2.65zM202.57 225.56h2.65v2.68h-2.65zM210.53 225.56h2.65v2.68h-2.65zM234.40 225.56h2.65v2.68h-2.65zM252.96 225.56h2.65v2.68h-2.65zM306.00 225.56h2.65v2.68h-2.65zM3.67 228.24h2.65v2.68h-2.65zM43.45 228.24h2.65v2.68h-2.65zM51.41 228.24h2.65v2.68h-2.65zM62.02 228.24h2.65v2.68h-2.65zM77.93 228.24h2.65v2.68h-2.65zM85.88 228.24h2.65v2.68h-2.65zM96.49 228.24h2.65v2.68h-2.65zM170.75 228.24h2.65v2.68h-2.65zM205.22 228.24h2.65v2.68h-2.65zM223.79 228.24h2.65v2.68h-2.65zM258.26 228.24h2.65v2.68h-2.65zM268.87 228.24h2.65v2.68h-2.65zM295.39 228.24h2.65v2.68h-2.65zM321.91 228.24h2.65v2.68h-2.65zM345.78 228.24h2.65v2.68h-2.65zM24.89 230.91h2.65v2.68h-2.65zM51.41 230.91h2.65v2.68h-2.65zM64.67 230.91h2.65v2.68h-2.65zM109.75 230.91h2.65v2.68h-2.65zM154.84 230.91h2.65v2.68h-2.65zM157.49 230.91h2.65v2.68h-2.65zM194.62 230.91h2.65v2.68h-2.65zM234.40 230.91h2.65v2.68h-2.65zM242.35 230.91h2.65v2.68h-2.65zM245.00 230.91h2.65v2.68h-2.65zM279.48 230.91h2.65v2.68h-2.65zM316.61 230.91h2.65v2.68h-2.65zM335.17 230.91h2.65v2.68h-2.65zM22.24 233.59h2.65v2.68h-2.65zM72.62 233.59h2.65v2.68h-2.65zM120.36 233.59h2.65v2.68h-2.65zM125.66 233.59h2.65v2.68h-2.65zM136.27 233.59h2.65v2.68h-2.65zM146.88 233.59h2.65v2.68h-2.65zM157.49 233.59h2.65v2.68h-2.65zM160.14 233.59h2.65v2.68h-2.65zM194.62 233.59h2.65v2.68h-2.65zM218.48 233.59h2.65v2.68h-2.65zM226.44 233.59h2.65v2.68h-2.65zM231.74 233.59h2.65v2.68h-2.65zM242.35 233.59h2.65v2.68h-2.65zM247.66 233.59h2.65v2.68h-2.65zM252.96 233.59h2.65v2.68h-2.65zM287.44 233.59h2.65v2.68h-2.65zM311.30 233.59h2.65v2.68h-2.65zM6.32 236.27h2.65v2.68h-2.65zM24.89 236.27h2.65v2.68h-2.65zM199.92 236.27h2.65v2.68h-2.65zM205.22 236.27h2.65v2.68h-2.65zM218.48 236.27h2.65v2.68h-2.65zM260.92 236.27h2.65v2.68h-2.65zM282.13 236.27h2.65v2.68h-2.65zM287.44 236.27h2.65v2.68h-2.65zM300.70 236.27h2.65v2.68h-2.65zM303.35 236.27h2.65v2.68h-2.65zM311.30 236.27h2.65v2.68h-2.65zM316.61 236.27h2.65v2.68h-2.65zM3.67 238.94h2.65v2.68h-2.65zM6.32 238.94h2.65v2.68h-2.65zM59.36 238.94h2.65v2.68h-2.65zM69.97 238.94h2.65v2.68h-2.65zM77.93 238.94h2.65v2.68h-2.65zM96.49 238.94h2.65v2.68h-2.65zM104.45 238.94h2.65v2.68h-2.65zM152.18 238.94h2.65v2.68h-2.65zM205.22 238.94h2.65v2.68h-2.65zM226.44 238.94h2.65v2.68h-2.65zM252.96 238.94h2.65v2.68h-2.65zM316.61 238.94h2.65v2.68h-2.65z" fill="#ffff58"/><path d="M43.45 -1.99h2.65v2.68h-2.65zM295.39 -1.99h2.65v2.68h-2.65zM327.22 0.69h2.65v2.68h-2.65zM154.84 3.37h2.65v2.68h-2.65zM46.10 6.04h2.65v2.68h-2.65zM247.66 6.04h2.65v2.68h-2.65zM263.57 6.04h2.65v2.68h-2.65zM308.65 6.04h2.65v2.68h-2.65zM313.96 6.04h2.65v2.68h-2.65zM168.10 11.40h2.65v2.68h-2.65zM343.13 11.40h2.65v2.68h-2.65zM83.23 14.07h2.65v2.68h-2.65zM77.93 16.75h2.65v2.68h-2.65zM77.93 19.43h2.65v2.68h-2.65zM313.96 27.46h2.65v2.68h-2.65zM191.96 32.81h2.65v2.68h-2.65zM223.79 32.81h2.65v2.68h-2.65zM221.14 35.49h2.65v2.68h-2.65zM263.57 35.49h2.65v2.68h-2.65zM218.48 38.17h2.65v2.68h-2.65zM128.32 48.88h2.65v2.68h-2.65zM178.70 54.23h2.65v2.68h-2.65zM221.14 54.23h2.65v2.68h-2.65zM274.18 56.91h2.65v2.68h-2.65zM319.26 59.58h2.65v2.68h-2.65zM170.75 62.26h2.65v2.68h-2.65zM191.96 64.94h2.65v2.68h-2.65zM250.31 70.29h2.65v2.68h-2.65zM337.82 72.97h2.65v2.68h-2.65zM252.96 75.65h2.65v2.68h-2.65zM176.05 78.32h2.65v2.68h-2.65zM231.74 78.32h2.65v2.68h-2.65zM19.58 83.68h2.65v2.68h-2.65zM38.15 83.68h2.65v2.68h-2.65zM178.70 89.03h2.65v2.68h-2.65zM215.83 89.03h2.65v2.68h-2.65zM260.92 89.03h2.65v2.68h-2.65zM46.10 94.39h2.65v2.68h-2.65zM255.61 97.06h2.65v2.68h-2.65zM218.48 102.42h2.65v2.68h-2.65zM226.44 102.42h2.65v2.68h-2.65zM295.39 102.42h2.65v2.68h-2.65zM14.28 105.09h2.65v2.68h-2.65zM85.88 110.45h2.65v2.68h-2.65zM46.10 113.12h2.65v2.68h-2.65zM88.54 113.12h2.65v2.68h-2.65zM8.98 115.80h2.65v2.68h-2.65zM282.13 115.80h2.65v2.68h-2.65zM141.58 118.48h2.65v2.68h-2.65zM337.82 118.48h2.65v2.68h-2.65zM260.92 123.83h2.65v2.68h-2.65zM345.78 123.83h2.65v2.68h-2.65zM22.24 126.51h2.65v2.68h-2.65zM27.54 131.86h2.65v2.68h-2.65zM165.44 131.86h2.65v2.68h-2.65zM279.48 131.86h2.65v2.68h-2.65zM255.61 134.54h2.65v2.68h-2.65zM107.10 137.22h2.65v2.68h-2.65zM109.75 137.22h2.65v2.68h-2.65zM75.28 142.57h2.65v2.68h-2.65zM170.75 142.57h2.65v2.68h-2.65zM197.27 142.57h2.65v2.68h-2.65zM327.22 145.25h2.65v2.68h-2.65zM62.02 147.93h2.65v2.68h-2.65zM165.44 150.60h2.65v2.68h-2.65zM340.48 150.60h2.65v2.68h-2.65zM22.24 153.28h2.65v2.68h-2.65zM202.57 153.28h2.65v2.68h-2.65zM3.67 155.96h2.65v2.68h-2.65zM67.32 155.96h2.65v2.68h-2.65zM149.53 155.96h2.65v2.68h-2.65zM160.14 161.31h2.65v2.68h-2.65zM329.87 161.31h2.65v2.68h-2.65zM282.13 163.99h2.65v2.68h-2.65zM239.70 166.66h2.65v2.68h-2.65zM144.23 172.02h2.65v2.68h-2.65zM115.06 174.69h2.65v2.68h-2.65zM337.82 174.69h2.65v2.68h-2.65zM51.41 180.05h2.65v2.68h-2.65zM266.22 180.05h2.65v2.68h-2.65zM77.93 182.73h2.65v2.68h-2.65zM295.39 182.73h2.65v2.68h-2.65zM298.04 182.73h2.65v2.68h-2.65zM128.32 185.40h2.65v2.68h-2.65zM130.97 188.08h2.65v2.68h-2.65zM157.49 188.08h2.65v2.68h-2.65zM176.05 188.08h2.65v2.68h-2.65zM215.83 190.76h2.65v2.68h-2.65zM125.66 196.11h2.65v2.68h-2.65zM279.48 196.11h2.65v2.68h-2.65zM43.45 198.79h2.65v2.68h-2.65zM319.26 206.82h2.65v2.68h-2.65zM197.27 209.50h2.65v2.68h-2.65zM96.49 214.85h2.65v2.68h-2.65zM258.26 217.53h2.65v2.68h-2.65zM56.71 220.20h2.65v2.68h-2.65zM152.18 220.20h2.65v2.68h-2.65zM157.49 228.24h2.65v2.68h-2.65zM170.75 230.91h2.65v2.68h-2.65zM266.22 230.91h2.65v2.68h-2.65zM6.32 233.59h2.65v2.68h-2.65zM242.35 236.27h2.65v2.68h-2.65zM117.71 238.94h2.65v2.68h-2.65z" fill="#fae04a"/></g>
<circle cx="135.1" cy="131.6" r="5.6" fill="#ffe04a"/>
<circle cx="135.0" cy="131.8" r="3.8" fill="#f08a2a"/>
<ellipse cx="135.2" cy="131.6" rx="2.6" ry="3.0" fill="#d8281a"/>
<circle cx="135.4" cy="131.2" r="1.1" fill="#901030"/>
<ellipse cx="172.6" cy="123.3" rx="9.2" ry="8.0" fill="#fff27a"/>
<ellipse cx="173.0" cy="123.3" rx="5.6" ry="4.8" fill="#f58a28"/>
<ellipse cx="172.2" cy="123.6" rx="3.6" ry="3.4" fill="#c83030"/>
<circle cx="172.8" cy="122.9" r="1.6" fill="#2020e0"/>
<ellipse cx="188.3" cy="108.8" rx="10.2" ry="10.4" fill="#e6e6c4"/>
<path d="M185.47,106.42A15.10,15.10 0 0 0 163.00,119.60M189.61,99.00A23.60,23.60 0 0 0 154.50,119.60M193.27,92.45A31.10,31.10 0 0 0 147.00,119.60M197.03,85.73A38.80,38.80 0 0 0 139.30,119.60M202.30,76.30A49.60,49.60 0 0 0 128.50,119.60M204.98,71.50A55.10,55.10 0 0 0 123.00,119.60M208.88,64.52A63.10,63.10 0 0 0 115.00,119.60M211.47,59.89A68.40,68.40 0 0 0 109.70,119.60M214.10,55.18A73.80,73.80 0 0 0 104.30,119.60M216.69,50.55A79.10,79.10 0 0 0 99.00,119.60M219.13,46.19A84.10,84.10 0 0 0 94.00,119.60M221.57,41.82A89.10,89.10 0 0 0 89.00,119.60M223.18,38.94A92.40,92.40 0 0 0 85.70,119.60M191.68,116.21A14.00,14.00 0 0 0 184.93,107.38M208.37,112.05A31.20,31.20 0 0 0 193.32,92.36M228.07,107.14A51.50,51.50 0 0 0 203.22,74.64M244.08,103.15A68.00,68.00 0 0 0 211.27,60.24M260.58,99.04A85.00,85.00 0 0 0 219.57,45.40M267.76,97.25A92.40,92.40 0 0 0 223.18,38.94M173.55,130.05A11.40,11.40 0 0 0 189.16,116.84M171.16,135.56A17.40,17.40 0 0 0 194.98,115.39M167.97,142.89A25.40,25.40 0 0 0 202.75,113.46M166.94,145.28A28.00,28.00 0 0 0 205.27,112.83M164.38,151.15A34.40,34.40 0 0 0 211.48,111.28M160.32,160.50A44.60,44.60 0 0 0 221.38,108.81M158.16,165.45A50.00,50.00 0 0 0 226.61,107.50M156.09,170.22A55.20,55.20 0 0 0 231.66,106.25M152.82,177.74A63.40,63.40 0 0 0 239.62,104.26M150.63,182.79A68.90,68.90 0 0 0 244.95,102.93M148.51,187.65A74.20,74.20 0 0 0 250.10,101.65M146.64,191.96A78.90,78.90 0 0 0 254.66,100.51M144.25,197.46A84.90,84.90 0 0 0 260.48,99.06M142.25,202.04A89.90,89.90 0 0 0 265.33,97.85M141.26,204.34A92.40,92.40 0 0 0 267.76,97.25M164.10,119.60A14.00,14.00 0 0 0 172.52,132.44M147.50,119.60A30.60,30.60 0 0 0 165.90,147.66M126.30,119.60A51.80,51.80 0 0 0 157.44,167.10M121.80,119.60A56.30,56.30 0 0 0 155.65,171.23M113.60,119.60A64.50,64.50 0 0 0 152.38,178.75M103.80,119.60A74.30,74.30 0 0 0 148.47,187.74M95.30,119.60A82.80,82.80 0 0 0 145.08,195.53M88.30,119.60A89.80,89.80 0 0 0 142.29,201.95M85.70,119.60A92.40,92.40 0 0 0 141.26,204.34" fill="none" stroke="#2b2bff" stroke-width="1"/>
<path d="M178.10,119.60L85.70,119.60M178.10,119.60L223.18,38.94M178.10,119.60L267.76,97.25M178.10,119.60L141.26,204.34" fill="none" stroke="#2b2bff" stroke-width="1"/>
<ellipse cx="135.0" cy="131.7" rx="6.9" ry="6.0" fill="none" stroke="#1a1af0" stroke-width="1.1"/>
<ellipse cx="137.2" cy="129.2" rx="6.8" ry="4.3" fill="none" stroke="#1a1af0" stroke-width="1.0" transform="rotate(-38 137.2 129.2)"/>
<ellipse cx="135.2" cy="131.8" rx="4.7" ry="4.3" fill="none" stroke="#1a1af0" stroke-width="0.9"/>
<ellipse cx="133.6" cy="133.6" rx="3.8" ry="2.6" fill="none" stroke="#1a1af0" stroke-width="0.8" transform="rotate(-30 133.6 133.6)"/>
<ellipse cx="172.3" cy="123.2" rx="8.8" ry="7.7" fill="none" stroke="#1a1af0" stroke-width="1.1"/>
<ellipse cx="172.8" cy="123.5" rx="7.0" ry="5.9" fill="none" stroke="#1a1af0" stroke-width="0.9"/>
<ellipse cx="187.9" cy="108.7" rx="10.0" ry="10.2" fill="none" stroke="#1414ee" stroke-width="1.1"/>
<ellipse cx="188.1" cy="108.8" rx="8.6" ry="8.8" fill="none" stroke="#1414ee" stroke-width="1.0"/>
<ellipse cx="188.3" cy="108.9" rx="7.2" ry="7.5" fill="none" stroke="#1414ee" stroke-width="1.0"/>
<ellipse cx="188.6" cy="109.2" rx="5.8" ry="6.0" fill="none" stroke="#1414ee" stroke-width="1.0"/>
<ellipse cx="188.8" cy="109.4" rx="4.5" ry="4.6" fill="none" stroke="#1414ee" stroke-width="1.0"/>
<ellipse cx="186.5" cy="107.0" rx="9.0" ry="8.2" fill="none" stroke="#2020f0" stroke-width="0.9" transform="rotate(-30 186.5 107)"/>
<path d="M184.4,103.6 A6.2,6.2 0 0 1 186.0,102.8" fill="none" stroke="#f07030" stroke-width="1.1"/>
<path d="M184.0,110.0 A4.8,4.8 0 0 0 186.6,114.6" fill="none" stroke="#f05a24" stroke-width="1.7"/>
<path d="M192.6,106.6 A4.6,4.6 0 0 1 192.9,112.2" fill="none" stroke="#f08a3a" stroke-width="1.2"/>
<circle cx="189.0" cy="109.7" r="3.9" fill="#10109a"/>
<ellipse cx="189.0" cy="109.8" rx="2.0" ry="1.8" fill="#000008"/>
</g>
<g font-family="Liberation Serif" font-size="14.3" fill="#0a0aff" stroke="#0a0aff" stroke-width="0.32">
<text x="14.1" y="30.3">00:30.0</text>
<text x="14.1" y="57.3">35.0</text>
<text x="14.1" y="84.5">40.0</text>
<text x="14.1" y="111.6">45.0</text>
<text x="14.1" y="138.8">50.0</text>
<text x="14.1" y="166.0">55.0</text>
<text x="14.4" y="193.3">-4:01:00.0</text>
<text x="9.0" y="229.5">26.0</text>
<text x="89.3" y="229.3">25.0</text>
<text x="153.0" y="229.1">14:17:24.0</text>
<text x="250.5" y="229.4">23.0</text>
<svg x="0" y="0" width="349.0" height="520" overflow="hidden"><text x="330.2" y="229.4">22.0</text></svg>
<text x="103.0" y="42.9">NE</text>
<text x="258.3" y="50.1">W</text>
<text x="80.6" y="177.8">E</text>
<text x="262.2" y="175.7">SW</text>
</g>
<rect x="7.0" y="1.2" width="342.0" height="235.5" fill="none" stroke="#7a7aff" stroke-width="1.1"/>
<path d="M13.44,1.2v1.6M13.44,236.7v-1.6M21.50,1.2v3.2M21.50,236.7v-3.2M29.56,1.2v1.6M29.56,236.7v-1.6M37.62,1.2v1.6M37.62,236.7v-1.6M45.68,1.2v1.6M45.68,236.7v-1.6M53.74,1.2v1.6M53.74,236.7v-1.6M61.80,1.2v1.6M61.80,236.7v-1.6M69.86,1.2v1.6M69.86,236.7v-1.6M77.92,1.2v1.6M77.92,236.7v-1.6M85.98,1.2v1.6M85.98,236.7v-1.6M94.04,1.2v1.6M94.04,236.7v-1.6M102.10,1.2v3.2M102.10,236.7v-3.2M110.16,1.2v1.6M110.16,236.7v-1.6M118.22,1.2v1.6M118.22,236.7v-1.6M126.28,1.2v1.6M126.28,236.7v-1.6M134.34,1.2v1.6M134.34,236.7v-1.6M142.40,1.2v1.6M142.40,236.7v-1.6M150.46,1.2v1.6M150.46,236.7v-1.6M158.52,1.2v1.6M158.52,236.7v-1.6M166.58,1.2v1.6M166.58,236.7v-1.6M174.64,1.2v1.6M174.64,236.7v-1.6M182.70,1.2v3.2M182.70,236.7v-3.2M190.76,1.2v1.6M190.76,236.7v-1.6M198.82,1.2v1.6M198.82,236.7v-1.6M206.88,1.2v1.6M206.88,236.7v-1.6M214.94,1.2v1.6M214.94,236.7v-1.6M223.00,1.2v1.6M223.00,236.7v-1.6M231.06,1.2v1.6M231.06,236.7v-1.6M239.12,1.2v1.6M239.12,236.7v-1.6M247.18,1.2v1.6M247.18,236.7v-1.6M255.24,1.2v1.6M255.24,236.7v-1.6M263.30,1.2v3.2M263.30,236.7v-3.2M271.36,1.2v1.6M271.36,236.7v-1.6M279.42,1.2v1.6M279.42,236.7v-1.6M287.48,1.2v1.6M287.48,236.7v-1.6M295.54,1.2v1.6M295.54,236.7v-1.6M303.60,1.2v1.6M303.60,236.7v-1.6M311.66,1.2v1.6M311.66,236.7v-1.6M319.72,1.2v1.6M319.72,236.7v-1.6M327.78,1.2v1.6M327.78,236.7v-1.6M335.84,1.2v1.6M335.84,236.7v-1.6M343.90,1.2v3.2M343.90,236.7v-3.2M7.0,5.58h1.6M349.0,5.58h-1.6M7.0,11.02h1.6M349.0,11.02h-1.6M7.0,16.46h1.6M349.0,16.46h-1.6M7.0,21.90h3.2M349.0,21.90h-3.2M7.0,27.34h1.6M349.0,27.34h-1.6M7.0,32.78h1.6M349.0,32.78h-1.6M7.0,38.22h1.6M349.0,38.22h-1.6M7.0,43.66h1.6M349.0,43.66h-1.6M7.0,49.10h3.2M349.0,49.10h-3.2M7.0,54.54h1.6M349.0,54.54h-1.6M7.0,59.98h1.6M349.0,59.98h-1.6M7.0,65.42h1.6M349.0,65.42h-1.6M7.0,70.86h1.6M349.0,70.86h-1.6M7.0,76.30h3.2M349.0,76.30h-3.2M7.0,81.74h1.6M349.0,81.74h-1.6M7.0,87.18h1.6M349.0,87.18h-1.6M7.0,92.62h1.6M349.0,92.62h-1.6M7.0,98.06h1.6M349.0,98.06h-1.6M7.0,103.50h3.2M349.0,103.50h-3.2M7.0,108.94h1.6M349.0,108.94h-1.6M7.0,114.38h1.6M349.0,114.38h-1.6M7.0,119.82h1.6M349.0,119.82h-1.6M7.0,125.26h1.6M349.0,125.26h-1.6M7.0,130.70h3.2M349.0,130.70h-3.2M7.0,136.14h1.6M349.0,136.14h-1.6M7.0,141.58h1.6M349.0,141.58h-1.6M7.0,147.02h1.6M349.0,147.02h-1.6M7.0,152.46h1.6M349.0,152.46h-1.6M7.0,157.90h3.2M349.0,157.90h-3.2M7.0,163.34h1.6M349.0,163.34h-1.6M7.0,168.78h1.6M349.0,168.78h-1.6M7.0,174.22h1.6M349.0,174.22h-1.6M7.0,179.66h1.6M349.0,179.66h-1.6M7.0,185.10h3.2M349.0,185.10h-3.2M7.0,190.54h1.6M349.0,190.54h-1.6M7.0,195.98h1.6M349.0,195.98h-1.6M7.0,201.42h1.6M349.0,201.42h-1.6M7.0,206.86h1.6M349.0,206.86h-1.6M7.0,212.30h3.2M349.0,212.30h-3.2M7.0,217.74h1.6M349.0,217.74h-1.6M7.0,223.18h1.6M349.0,223.18h-1.6M7.0,228.62h1.6M349.0,228.62h-1.6M7.0,234.06h1.6M349.0,234.06h-1.6" stroke="#7a7aff" stroke-width="1" fill="none"/>
</g>
<g>
<rect x="19.8" y="261.2" width="156.0" height="109.30000000000001" fill="none" stroke="#959595" stroke-width="1.0"/>
<path d="M50.11,370.5v-1.5M50.11,261.2v1.5M67.85,370.5v-1.5M67.85,261.2v1.5M80.43,370.5v-1.5M80.43,261.2v1.5M90.19,370.5v-1.5M90.19,261.2v1.5M98.16,370.5v-1.5M98.16,261.2v1.5M104.90,370.5v-1.5M104.90,261.2v1.5M110.74,370.5v-1.5M110.74,261.2v1.5M115.89,370.5v-1.5M115.89,261.2v1.5M120.50,370.5v-2.6M120.50,261.2v2.6M150.81,370.5v-1.5M150.81,261.2v1.5M168.55,370.5v-1.5M168.55,261.2v1.5M19.8,369.51h1.5M175.8,369.51h-1.5M19.8,364.64h1.5M175.8,364.64h-1.5M19.8,360.53h1.5M175.8,360.53h-1.5M19.8,356.96h1.5M175.8,356.96h-1.5M19.8,353.81h1.5M175.8,353.81h-1.5M19.8,351.00h2.6M175.8,351.00h-2.6M19.8,332.49h1.5M175.8,332.49h-1.5M19.8,321.66h1.5M175.8,321.66h-1.5M19.8,313.97h1.5M175.8,313.97h-1.5M19.8,308.01h1.5M175.8,308.01h-1.5M19.8,303.14h1.5M175.8,303.14h-1.5M19.8,299.03h1.5M175.8,299.03h-1.5M19.8,295.46h1.5M175.8,295.46h-1.5M19.8,292.31h1.5M175.8,292.31h-1.5M19.8,289.50h2.6M175.8,289.50h-2.6M19.8,270.99h1.5M175.8,270.99h-1.5" stroke="#959595" stroke-width="0.9" fill="none"/>
<path d="M19.8,343.8H169.0" stroke="#b8b8b8" stroke-width="1.4"/>
<path d="M36.9,287.1C50,297 65,311 76.8,319.8S95,330 110,335.9S130,341 143.6,342.2" fill="none" stroke="#ffa8a8" stroke-width="1"/>
<path d="M19.8,287.6H67.1M36.9,280.9V296.0M35.60,280.9h2.6M35.60,296.0h2.6M19.8,286.40v2.4M67.1,286.40v2.4M67.1,319.8H86.9M76.8,312.6V330.5M75.50,312.6h2.6M75.50,330.5h2.6M67.1,318.60v2.4M86.9,318.60v2.4M85.2,324H96.6M91.9,317.3V332.7M90.60,317.3h2.6M90.60,332.7h2.6M85.2,322.80v2.4M96.6,322.80v2.4M97.3,335.3H107.9M102.9,328.5V345.3M101.60,328.5h2.6M101.60,345.3h2.6M97.3,334.10v2.4M107.9,334.10v2.4M107.4,346.6H117.5M112.9,339.8V356M111.60,339.8h2.6M111.60,356h2.6M107.4,345.40v2.4M117.5,345.40v2.4M117.7,334.9H122.3M119.8,327.5V343.6M118.50,327.5h2.6M118.50,343.6h2.6M117.7,333.70v2.4M122.3,333.70v2.4M122.9,343.9H127.5M125.1,337.3V352.7M123.80,337.3h2.6M123.80,352.7h2.6M122.9,342.70v2.4M127.5,342.70v2.4M127.8,338.3H131.7M129.6,331.3V347.8M128.30,331.3h2.6M128.30,347.8h2.6M127.8,337.10v2.4M131.7,337.10v2.4M131,340.4H134.9M133.1,333.1V349.9M131.80,333.1h2.6M131.80,349.9h2.6M131,339.20v2.4M134.9,339.20v2.4M134.5,330.7H138M136.3,324.7V337.3M135.00,324.7h2.6M135.00,337.3h2.6M134.5,329.50v2.4M138,329.50v2.4M137.3,349.2H141.1M139.1,341.5V359.3M137.80,341.5h2.6M137.80,359.3h2.6M137.3,348.00v2.4M141.1,348.00v2.4M140.8,348.1H144.3M142.5,340.8V357.6M141.20,340.8h2.6M141.20,357.6h2.6M140.8,346.90v2.4M144.3,346.90v2.4M142.5,340.1H145.5M143.9,331.3V349M142.60,331.3h2.6M142.60,349h2.6M142.5,338.90v2.4M145.5,338.90v2.4" stroke="#b0b0b0" stroke-width="0.9" fill="none"/>
<circle cx="36.9" cy="287.6" r="1.3" fill="#000"/>
<circle cx="76.8" cy="319.8" r="1.3" fill="#000"/>
<circle cx="91.9" cy="324" r="1.3" fill="#000"/>
<circle cx="102.9" cy="335.3" r="1.3" fill="#000"/>
<circle cx="112.9" cy="346.6" r="1.3" fill="#000"/>
<circle cx="119.8" cy="334.9" r="1.3" fill="#000"/>
<circle cx="125.1" cy="343.9" r="1.3" fill="#000"/>
<circle cx="129.6" cy="338.3" r="1.3" fill="#000"/>
<circle cx="133.1" cy="340.4" r="1.3" fill="#000"/>
<circle cx="136.3" cy="330.7" r="1.3" fill="#000"/>
<circle cx="139.1" cy="349.2" r="1.3" fill="#000"/>
<circle cx="142.5" cy="348.1" r="1.3" fill="#000"/>
<circle cx="143.9" cy="340.1" r="1.3" fill="#000"/>
<g font-family="Liberation Serif" font-size="9.67" fill="#111" stroke="#111" stroke-width="0.18">
<rect x="94.00" y="272.40" width="2" height="2" fill="#000"/>
<text x="100.6" y="276.60">NE direction</text>
<path d="M91.80,283.1h5.6" stroke="#ffa8a8" stroke-width="1"/>
<text x="100.6" y="285.60">β-model</text>
<path d="M91.80,293.4h5.6" stroke="#b0b0b0" stroke-width="1"/>
<text x="100.6" y="295.90">background</text>
</g>
<g font-family="Liberation Serif" font-size="4" fill="#444">
<text x="19.00" y="375.10">1</text>
<text x="118.50" y="375.10">10</text>
<text x="12.20" y="291.40" font-size="3.8" fill="#333">10</text><text x="16.80" y="289.10" font-size="2.8" fill="#333">-4</text>
<text x="12.20" y="352.90" font-size="3.8" fill="#333">10</text><text x="16.80" y="350.60" font-size="2.8" fill="#333">-5</text>
</g>
<text x="92.3" y="379.0" font-family="Liberation Serif" font-size="4.3" fill="#333">arcsec</text>
<text transform="translate(11.0,372.0) rotate(-90)" font-family="Liberation Serif" font-size="8.85" fill="#111" stroke="#111" stroke-width="0.2">Surface Flux (cts/arcsec<tspan dy="-4.3" font-size="6.4">2</tspan><tspan dy="4.3">/cm</tspan><tspan dy="-4.3" font-size="6.4">2</tspan><tspan dy="4.3">/s)</tspan></text>
</g>
<g>
<rect x="199.3" y="261.1" width="156.0" height="109.29999999999995" fill="none" stroke="#959595" stroke-width="1.0"/>
<path d="M229.52,370.4v-1.5M229.52,261.1v1.5M247.20,370.4v-1.5M247.20,261.1v1.5M259.75,370.4v-1.5M259.75,261.1v1.5M269.48,370.4v-1.5M269.48,261.1v1.5M277.43,370.4v-1.5M277.43,261.1v1.5M284.15,370.4v-1.5M284.15,261.1v1.5M289.97,370.4v-1.5M289.97,261.1v1.5M295.11,370.4v-1.5M295.11,261.1v1.5M299.70,370.4v-2.6M299.70,261.1v2.6M329.92,370.4v-1.5M329.92,261.1v1.5M347.60,370.4v-1.5M347.60,261.1v1.5M199.3,367.21h1.5M355.3,367.21h-1.5M199.3,362.50h1.5M355.3,362.50h-1.5M199.3,358.52h1.5M355.3,358.52h-1.5M199.3,355.07h1.5M355.3,355.07h-1.5M199.3,352.02h1.5M355.3,352.02h-1.5M199.3,349.30h2.6M355.3,349.30h-2.6M199.3,331.39h1.5M355.3,331.39h-1.5M199.3,320.91h1.5M355.3,320.91h-1.5M199.3,313.48h1.5M355.3,313.48h-1.5M199.3,307.71h1.5M355.3,307.71h-1.5M199.3,303.00h1.5M355.3,303.00h-1.5M199.3,299.02h1.5M355.3,299.02h-1.5M199.3,295.57h1.5M355.3,295.57h-1.5M199.3,292.52h1.5M355.3,292.52h-1.5M199.3,289.80h2.6M355.3,289.80h-2.6M199.3,271.89h1.5M355.3,271.89h-1.5" stroke="#959595" stroke-width="0.9" fill="none"/>
<path d="M199.3,343.6H348.0" stroke="#b8b8b8" stroke-width="1.4"/>
<path d="M199.3,305.2H277M246.5,297.8V314.7M245.20,297.8h2.6M245.20,314.7h2.6M199.3,304.00v2.4M277,304.00v2.4M276.7,344H299.4M289.7,336.4V354.9M288.40,336.4h2.6M288.40,354.9h2.6M276.7,342.80v2.4M299.4,342.80v2.4M299.4,343H311.2M305.3,335.9V353.2M304.00,335.9h2.6M304.00,353.2h2.6M299.4,341.80v2.4M311.2,341.80v2.4M311.2,346.5H320.4M315.7,339.8V356.1M314.40,339.8h2.6M314.40,356.1h2.6M311.2,345.30v2.4M320.4,345.30v2.4M320.4,340.5H325.5M322.1,332.6V351.9M320.80,332.6h2.6M320.80,351.9h2.6M320.4,339.30v2.4M325.5,339.30v2.4" stroke="#b0b0b0" stroke-width="0.9" fill="none"/>
<circle cx="246.5" cy="305.2" r="1.3" fill="#000"/>
<circle cx="289.7" cy="344" r="1.3" fill="#000"/>
<circle cx="305.3" cy="343" r="1.3" fill="#000"/>
<circle cx="315.7" cy="346.5" r="1.3" fill="#000"/>
<circle cx="322.1" cy="340.5" r="1.3" fill="#000"/>
<g font-family="Liberation Serif" font-size="9.45" fill="#111" stroke="#111" stroke-width="0.18">
<rect x="281.50" y="273.00" width="2" height="2" fill="#000"/>
<text x="288.1" y="277.20">W direction</text>
<path d="M279.30,282.2h5.6" stroke="#b0b0b0" stroke-width="1"/>
<text x="288.1" y="284.70">background</text>
</g>
<g font-family="Liberation Serif" font-size="4" fill="#444">
<text x="198.50" y="375.00">1</text>
<text x="297.70" y="375.00">10</text>
<text x="191.70" y="291.70" font-size="3.8" fill="#333">10</text><text x="196.30" y="289.40" font-size="2.8" fill="#333">-4</text>
<text x="191.70" y="351.20" font-size="3.8" fill="#333">10</text><text x="196.30" y="348.90" font-size="2.8" fill="#333">-5</text>
</g>
<text x="271.6" y="379.2" font-family="Liberation Serif" font-size="4.3" fill="#333">arcsec</text>
</g>
<g>
<rect x="20.1" y="399.0" width="154.9" height="108.0" fill="none" stroke="#959595" stroke-width="1.0"/>
<path d="M50.35,507.0v-1.5M50.35,399.0v1.5M68.05,507.0v-1.5M68.05,399.0v1.5M80.61,507.0v-1.5M80.61,399.0v1.5M90.35,507.0v-1.5M90.35,399.0v1.5M98.30,507.0v-1.5M98.30,399.0v1.5M105.03,507.0v-1.5M105.03,399.0v1.5M110.86,507.0v-1.5M110.86,399.0v1.5M116.00,507.0v-1.5M116.00,399.0v1.5M120.60,507.0v-2.6M120.60,399.0v2.6M150.85,507.0v-1.5M150.85,399.0v1.5M168.55,507.0v-1.5M168.55,399.0v1.5M20.1,504.94h1.5M175.0,504.94h-1.5M20.1,500.22h1.5M175.0,500.22h-1.5M20.1,496.23h1.5M175.0,496.23h-1.5M20.1,492.78h1.5M175.0,492.78h-1.5M20.1,489.73h1.5M175.0,489.73h-1.5M20.1,487.00h2.6M175.0,487.00h-2.6M20.1,469.06h1.5M175.0,469.06h-1.5M20.1,458.56h1.5M175.0,458.56h-1.5M20.1,451.12h1.5M175.0,451.12h-1.5M20.1,445.34h1.5M175.0,445.34h-1.5M20.1,440.62h1.5M175.0,440.62h-1.5M20.1,436.63h1.5M175.0,436.63h-1.5M20.1,433.18h1.5M175.0,433.18h-1.5M20.1,430.13h1.5M175.0,430.13h-1.5M20.1,427.40h2.6M175.0,427.40h-2.6M20.1,409.46h1.5M175.0,409.46h-1.5" stroke="#959595" stroke-width="0.9" fill="none"/>
<path d="M20.1,475.6H168.0" stroke="#b8b8b8" stroke-width="1.4"/>
<path d="M20.1,460.2H97.3M67.3,453.4V468.7M66.00,453.4h2.6M66.00,468.7h2.6M20.1,459.00v2.4M97.3,459.00v2.4M97.3,478.1H117.6M108.7,471V488.4M107.40,471h2.6M107.40,488.4h2.6M97.3,476.90v2.4M117.6,476.90v2.4M117.6,458.1H122.2M119.8,450.9V468.9M118.50,450.9h2.6M118.50,468.9h2.6M117.6,456.90v2.4M122.2,456.90v2.4M121.8,473.1H126.9M124.9,465.5V483.3M123.60,465.5h2.6M123.60,483.3h2.6M121.8,471.90v2.4M126.9,471.90v2.4M127.7,479.1H133.6M131.1,471.9V488.7M129.80,471.9h2.6M129.80,488.7h2.6M127.7,477.90v2.4M133.6,477.90v2.4M133.6,477.3H139M136.6,470.2V487M135.30,470.2h2.6M135.30,487h2.6M133.6,476.10v2.4M139,476.10v2.4M139,479.8H142.9M140.8,472.4V489.5M139.50,472.4h2.6M139.50,489.5h2.6M139,478.60v2.4M142.9,478.60v2.4M142.9,465.5H145M143.7,456.4V479.5M142.40,456.4h2.6M142.40,479.5h2.6M142.9,464.30v2.4M145,464.30v2.4" stroke="#b0b0b0" stroke-width="0.9" fill="none"/>
<circle cx="67.3" cy="460.2" r="1.3" fill="#000"/>
<circle cx="108.7" cy="478.1" r="1.3" fill="#000"/>
<circle cx="119.8" cy="458.1" r="1.3" fill="#000"/>
<circle cx="124.9" cy="473.1" r="1.3" fill="#000"/>
<circle cx="131.1" cy="479.1" r="1.3" fill="#000"/>
<circle cx="136.6" cy="477.3" r="1.3" fill="#000"/>
<circle cx="140.8" cy="479.8" r="1.3" fill="#000"/>
<circle cx="143.7" cy="465.5" r="1.3" fill="#000"/>
<g font-family="Liberation Serif" font-size="9.55" fill="#111" stroke="#111" stroke-width="0.18">
<rect x="109.50" y="410.60" width="2" height="2" fill="#000"/>
<text x="116.1" y="414.80">E direction</text>
<path d="M107.30,420.1h5.6" stroke="#b0b0b0" stroke-width="1"/>
<text x="116.1" y="422.60">background</text>
</g>
<g font-family="Liberation Serif" font-size="4" fill="#444">
<text x="19.30" y="511.60">1</text>
<text x="118.60" y="511.60">10</text>
<text x="12.50" y="429.30" font-size="3.8" fill="#333">10</text><text x="17.10" y="427.00" font-size="2.8" fill="#333">-4</text>
<text x="12.50" y="488.90" font-size="3.8" fill="#333">10</text><text x="17.10" y="486.60" font-size="2.8" fill="#333">-5</text>
</g>
<text x="86.9" y="517.1" font-family="Liberation Serif" font-size="8.7" fill="#111" stroke="#111" stroke-width="0.22">arcsec</text>
<text transform="translate(11.7,508.7) rotate(-90)" font-family="Liberation Serif" font-size="8.67" fill="#111" stroke="#111" stroke-width="0.2">Surface Flux (cts/arcsec<tspan dy="-4.3" font-size="6.2">2</tspan><tspan dy="4.3">/cm</tspan><tspan dy="-4.3" font-size="6.2">2</tspan><tspan dy="4.3">/s)</tspan></text>
</g>
<g>
<rect x="199.3" y="398.5" width="156.0" height="109.10000000000002" fill="none" stroke="#959595" stroke-width="1.0"/>
<path d="M229.55,507.6v-1.5M229.55,398.5v1.5M247.25,507.6v-1.5M247.25,398.5v1.5M259.81,507.6v-1.5M259.81,398.5v1.5M269.55,507.6v-1.5M269.55,398.5v1.5M277.50,507.6v-1.5M277.50,398.5v1.5M284.23,507.6v-1.5M284.23,398.5v1.5M290.06,507.6v-1.5M290.06,398.5v1.5M295.20,507.6v-1.5M295.20,398.5v1.5M299.80,507.6v-2.6M299.80,398.5v2.6M330.05,507.6v-1.5M330.05,398.5v1.5M347.75,507.6v-1.5M347.75,398.5v1.5M199.3,506.66h1.5M355.3,506.66h-1.5M199.3,501.83h1.5M355.3,501.83h-1.5M199.3,497.75h1.5M355.3,497.75h-1.5M199.3,494.21h1.5M355.3,494.21h-1.5M199.3,491.09h1.5M355.3,491.09h-1.5M199.3,488.30h2.6M355.3,488.30h-2.6M199.3,469.94h1.5M355.3,469.94h-1.5M199.3,459.20h1.5M355.3,459.20h-1.5M199.3,451.57h1.5M355.3,451.57h-1.5M199.3,445.66h1.5M355.3,445.66h-1.5M199.3,440.83h1.5M355.3,440.83h-1.5M199.3,436.75h1.5M355.3,436.75h-1.5M199.3,433.21h1.5M355.3,433.21h-1.5M199.3,430.09h1.5M355.3,430.09h-1.5M199.3,427.30h2.6M355.3,427.30h-2.6M199.3,408.94h1.5M355.3,408.94h-1.5" stroke="#959595" stroke-width="0.9" fill="none"/>
<path d="M199.3,480.9H348.3" stroke="#b8b8b8" stroke-width="1.4"/>
<path d="M208.1,417.5C225,422 238,426 246.9,429.6S258,437 266,444S288,462 300,471.8S315,478 323.1,479.1" fill="none" stroke="#ffa8a8" stroke-width="1"/>
<path d="M199.3,417.5H238.3M208.1,411.2V425.3M206.80,411.2h2.6M206.80,425.3h2.6M199.3,416.30v2.4M238.3,416.30v2.4M238.3,429.6H253.4M246.9,423.1V437.6M245.60,423.1h2.6M245.60,437.6h2.6M238.3,428.40v2.4M253.4,428.40v2.4M253.6,444.8H269.3M262.3,439.2V452.7M261.00,439.2h2.6M261.00,452.7h2.6M253.6,443.60v2.4M269.3,443.60v2.4M267,441.4H274.6M271.2,434.2V451.8M269.90,434.2h2.6M269.90,451.8h2.6M267,440.20v2.4M274.6,440.20v2.4M273.8,447.6H280.2M277.1,442.1V455.5M275.80,442.1h2.6M275.80,455.5h2.6M273.8,446.40v2.4M280.2,446.40v2.4M280.2,487.6H293.1M286.9,480.1V495M285.60,480.1h2.6M285.60,495h2.6M280.2,486.40v2.4M293.1,486.40v2.4M292.3,466.6H297.3M294.8,459.9V475M293.50,459.9h2.6M293.50,475h2.6M292.3,465.40v2.4M297.3,465.40v2.4M297.3,466.6H301.5M299.3,460.6V475.7M298.00,460.6h2.6M298.00,475.7h2.6M297.3,465.40v2.4M301.5,465.40v2.4M302.3,479.3H307M304.6,473.2V487.5M303.30,473.2h2.6M303.30,487.5h2.6M302.3,478.10v2.4M307,478.10v2.4M307,473.2H311M309.1,466.5V479.5M307.80,466.5h2.6M307.80,479.5h2.6M307,472.00v2.4M311,472.00v2.4M311,473.2H314.4M312.6,466.5V479.5M311.30,466.5h2.6M311.30,479.5h2.6M311,472.00v2.4M314.4,472.00v2.4M314.4,484H317.2M315.8,474.6V493.5M314.50,474.6h2.6M314.50,493.5h2.6M314.4,482.80v2.4M317.2,482.80v2.4M317.2,473.2H320.2M318.6,467.3V479.5M317.30,467.3h2.6M317.30,479.5h2.6M317.2,472.00v2.4M320.2,472.00v2.4M320.2,474.9H323M321.7,469V480.2M320.40,469h2.6M320.40,480.2h2.6M320.2,473.70v2.4M323,473.70v2.4M322.5,483.4H324.5M323.4,474.9V497M322.10,474.9h2.6M322.10,497h2.6M322.5,482.20v2.4M324.5,482.20v2.4" stroke="#b0b0b0" stroke-width="0.9" fill="none"/>
<circle cx="208.1" cy="417.5" r="1.3" fill="#000"/>
<circle cx="246.9" cy="429.6" r="1.3" fill="#000"/>
<circle cx="262.3" cy="444.8" r="1.3" fill="#000"/>
<circle cx="271.2" cy="441.4" r="1.3" fill="#000"/>
<circle cx="277.1" cy="447.6" r="1.3" fill="#000"/>
<circle cx="286.9" cy="487.6" r="1.3" fill="#000"/>
<circle cx="294.8" cy="466.6" r="1.3" fill="#000"/>
<circle cx="299.3" cy="466.6" r="1.3" fill="#000"/>
<circle cx="304.6" cy="479.3" r="1.3" fill="#000"/>
<circle cx="309.1" cy="473.2" r="1.3" fill="#000"/>
<circle cx="312.6" cy="473.2" r="1.3" fill="#000"/>
<circle cx="315.8" cy="484" r="1.3" fill="#000"/>
<circle cx="318.6" cy="473.2" r="1.3" fill="#000"/>
<circle cx="321.7" cy="474.9" r="1.3" fill="#000"/>
<circle cx="323.4" cy="483.4" r="1.3" fill="#000"/>
<g font-family="Liberation Serif" font-size="9.58" fill="#111" stroke="#111" stroke-width="0.18">
<rect x="281.00" y="410.80" width="2" height="2" fill="#000"/>
<text x="287.6" y="415.00">SW direction</text>
<path d="M278.80,420.6h5.6" stroke="#ffa8a8" stroke-width="1"/>
<text x="287.6" y="423.10">β-model</text>
<path d="M278.80,430.4h5.6" stroke="#b0b0b0" stroke-width="1"/>
<text x="287.6" y="432.90">background</text>
</g>
<g font-family="Liberation Serif" font-size="4" fill="#444">
<text x="198.50" y="512.20">1</text>
<text x="297.80" y="512.20">10</text>
<text x="191.70" y="429.20" font-size="3.8" fill="#333">10</text><text x="196.30" y="426.90" font-size="2.8" fill="#333">-4</text>
<text x="191.70" y="490.20" font-size="3.8" fill="#333">10</text><text x="196.30" y="487.90" font-size="2.8" fill="#333">-5</text>
</g>
<text x="266.0" y="518.0" font-family="Liberation Serif" font-size="8.7" fill="#111" stroke="#111" stroke-width="0.22">arcsec</text>
</g>
</g>
</svg></body></html>
